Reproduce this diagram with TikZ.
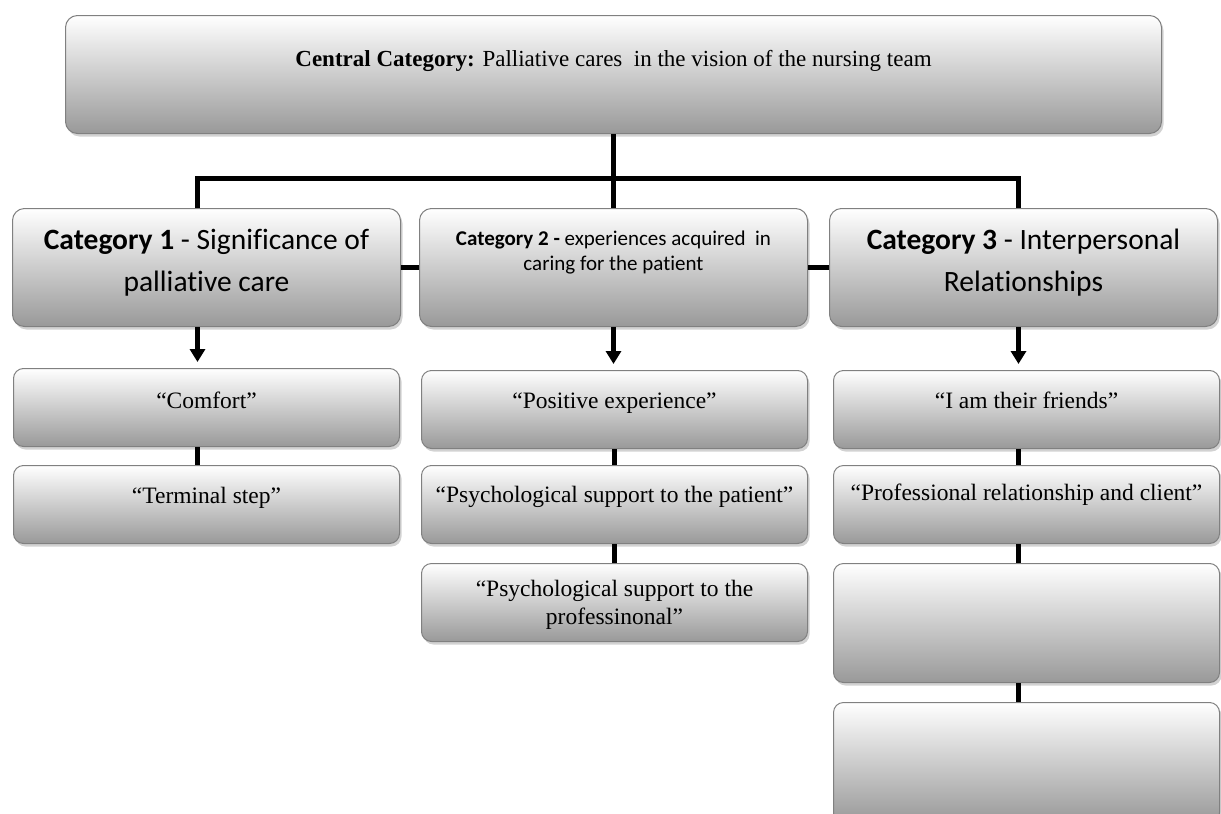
\documentclass[tikz,border=0pt]{standalone}
\usepackage{fontspec}
\setmainfont{Liberation Serif}
\newfontfamily\calibri{Carlito}[Ligatures=CommonOff]
\usetikzlibrary{arrows.meta,shadows,calc}

\begin{document}
\begin{tikzpicture}[
    x=1pt, y=-1pt,
    box/.style={draw=black!50, line width=1pt, rounded corners=12pt,
      top color=white, bottom color=black!40,
      drop shadow={shadow xshift=2pt, shadow yshift=-3pt, fill=black!35, opacity=0.5},
      inner xsep=4pt, inner ysep=0pt, anchor=north west, align=center},
    central/.style={box, minimum width=1096pt, text height=51pt, text depth=67pt, font=\fontsize{23}{28}\selectfont},
    catbig/.style={box, minimum width=388pt, text height=83pt, text depth=35pt, font=\calibri\fontsize{29.5}{42}\selectfont},
    catsmall/.style={box, minimum width=388pt, text height=62pt, text depth=56pt, font=\calibri\fontsize{21}{25}\selectfont},
    theme/.style={box, rounded corners=10pt, minimum width=386pt, text height=39pt, text depth=39pt, font=\fontsize{23.5}{28}\selectfont},
    tree/.style={line width=4.5pt},
    arrow/.style={line width=4.5pt, -{Triangle[width=15pt,length=13pt]}, shorten >=6pt}
  ]

    \useasboundingbox (0,0) rectangle (1221,814);

    % Central category
    \node[central] (central) at (65,15) {\textbf{Central Category:} Palliative cares\ \ in the vision of the nursing team};

    % The three categories
    \node[catbig] (cat1) at (12,208) {\textbf{Category 1} - Significance of\\palliative care};
    \node[catsmall] (cat2) at (419,208) {\textbf{Category 2 -} experiences acquired\ \ in\\caring for the patient};
    \node[catbig] (cat3) at (829,208) {\textbf{Category 3} - Interpersonal\\Relationships};

    % Subcategories of category 1
    \node[theme, text height=40pt, text depth=38pt] (comfort) at (13,368) {“Comfort”};
    \node[theme, text height=38pt, text depth=40pt] (terminal) at (13,465) {“Terminal step”};

    % Subcategories of category 2
    \node[theme, text height=38pt, text depth=40pt] (positive) at (421,370) {“Positive experience”};
    \node[theme, text height=37pt, text depth=41pt] (patient) at (421,465) {“Psychological support to the patient”};
    \node[theme, text height=61pt, text depth=17pt] (professional) at (421,563) {“Psychological support to the\\professinonal”};

    % Subcategories of category 3
    \node[theme, text height=38pt, text depth=40pt] (friends) at (833,370) {“I am their friends”};
    \node[theme, text height=35pt, text depth=43pt] (client) at (833,465) {“Professional relationship and client”};
    \node[theme, text height=0pt, text depth=119pt] (blank1) at (833,563) {};
    \node[theme, text height=0pt, text depth=120pt] (blank2) at (833,702) {};

    % Tree from the central category
    \draw[tree] (central.south) -- (cat2.north);
    \coordinate (hub) at ($(central.south)!0.6!(cat2.north)$);
    \draw[tree] ([xshift=-9pt]cat1.north) |- (hub) -| ([xshift=-5pt]cat3.north);
    \draw[tree] (cat1.east) -- (cat2.west);
    \draw[tree] (cat2.east) -- (cat3.west);

    % Arrows down to the subcategories
    \draw[arrow] ([xshift=-9pt]cat1.south) -- ([xshift=-9pt]cat1.south |- comfort.north);
    \draw[arrow] (cat2.south) -- (cat2.south |- positive.north);
    \draw[arrow] ([xshift=-5pt]cat3.south) -- ([xshift=-5pt]cat3.south |- friends.north);

    % Links between subcategories
    \draw[tree] ([xshift=-9pt]comfort.south) -- ([xshift=-9pt]terminal.north);
    \draw[tree] (positive.south) -- (patient.north);
    \draw[tree] (patient.south) -- (professional.north);
    \draw[tree] ([xshift=-8pt]friends.south) -- ([xshift=-8pt]client.north);
    \draw[tree] ([xshift=-8pt]client.south) -- ([xshift=-8pt]blank1.north);
    \draw[tree] ([xshift=-8pt]blank1.south) -- ([xshift=-8pt]blank2.north);

\end{tikzpicture}
\end{document}
